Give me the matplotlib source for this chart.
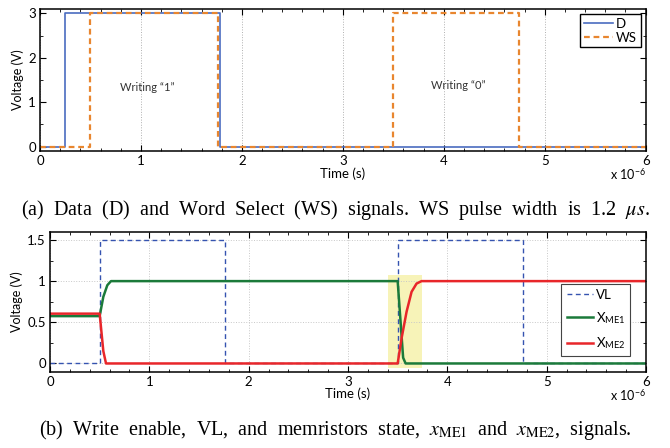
import matplotlib
matplotlib.use('Agg')
import matplotlib.pyplot as plt
from matplotlib.ticker import MultipleLocator

# --- data (time in microseconds) ---
d_t = [0, 0.25, 0.25, 1.78, 1.78, 6]
d_v = [0, 0, 3, 3, 0, 0]
ws_t = [0, 0.5, 0.5, 1.76, 1.76, 3.5, 3.5, 4.75, 4.75, 6]
ws_v = [0, 0, 3, 3, 0, 0, 3, 3, 0, 0]

vl_t = [0, 0.5, 0.5, 1.76, 1.76, 3.5, 3.5, 4.76, 4.76, 6]
vl_v = [0, 0, 1.5, 1.5, 0, 0, 1.5, 1.5, 0, 0]
xme1_t = [0, 0.5, 0.537, 0.577, 0.614, 3.5, 3.555, 3.58, 6]
xme1_v = [0.575, 0.575, 0.81, 0.95, 1.0, 1.0, 0.07, 0.0, 0.0]
xme2_t = [0, 0.5, 0.537, 0.564, 3.5, 3.54, 3.59, 3.64, 3.69, 3.74, 6]
xme2_v = [0.605, 0.605, 0.15, 0.0, 0.0, 0.31, 0.63, 0.87, 0.97, 1.0, 1.0]

highlight = (3.40, 3.74, -0.06, 1.08)

caption_a = r'(a)  Data  (D)  and  Word  Select  (WS)  signals.  WS  pulse  width  is  1.2  $\mu s$.'
caption_b = r'(b)  Write  enable,  VL,  and  memristors  state,  $x_{\rm ME1}$  and  $x_{\rm ME2}$,  signals.'

plt.rcParams['font.family'] = ['Lato', 'DejaVu Sans']
plt.rcParams['mathtext.fontset'] = 'stix'

fig = plt.figure(figsize=(6.7, 4.48), dpi=100)
ax1 = fig.add_axes([0.0597, 0.663, 0.904, 0.317])
ax2 = fig.add_axes([0.0746, 0.1703, 0.8896, 0.3125])


def style_axes(ax, off_y):
    ax.tick_params(which='both', direction='in', top=True, right=True, labelsize=9.5, pad=3)
    ax.tick_params(which='major', length=4, width=0.8)
    ax.tick_params(which='minor', length=2, width=0.6)
    for s in ax.spines.values():
        s.set_linewidth(1.1)
    ax.set_xlim(0, 6)
    ax.xaxis.set_major_locator(MultipleLocator(1))
    ax.xaxis.set_minor_locator(MultipleLocator(0.2))
    ax.set_xlabel('Time (s)', fontsize=9.5, labelpad=0)
    ax.set_ylabel('Voltage (V)', fontsize=9, labelpad=3)
    ax.text(1.0, off_y, r'x 10$^{\mathregular{-6}}$', transform=ax.transAxes, ha='right', va='center',
            fontsize=9, family=['Lato', 'DejaVu Sans'])


# (a)
style_axes(ax1, -0.165)
ax1.plot(d_t, d_v, color='#4a6cc0', lw=1.2, label='D')
ax1.plot(ws_t, ws_v, color='#e8862f', lw=1.6, ls=(0, (2.6, 1.7)), label='WS')
ax1.set_ylim(-0.1, 3.1)
ax1.yaxis.set_major_locator(MultipleLocator(1))
ax1.yaxis.set_minor_locator(MultipleLocator(0.5))
ax1.grid(axis='x', which='major', ls=':', color='#b0b0b0', lw=0.7)
ax1.text(1.06, 1.33, 'Writing \u201c1\u201d', fontsize=8, ha='center', va='center', color='#333333')
ax1.text(4.14, 1.37, 'Writing \u201c0\u201d', fontsize=8, ha='center', va='center', color='#333333')
leg = ax1.legend(loc='upper right', fontsize=9.5, handlelength=2.2, handletextpad=0.2,
                 borderpad=0.3, labelspacing=0.15, fancybox=False, framealpha=1,
                 borderaxespad=0.35)
leg.get_frame().set_edgecolor('black')
leg.get_frame().set_linewidth(1.0)

# (b)
style_axes(ax2, -0.168)
ax2.axvspan(highlight[0], highlight[1], ymin=(highlight[2] + 0.1) / 1.7, ymax=(highlight[3] + 0.1) / 1.7,
            color='#f7f3b8', lw=0, zorder=0)
ax2.plot(vl_t, vl_v, color='#3553b0', lw=1.0, ls=(0, (3.5, 2.5)), label='VL')
ax2.plot(xme1_t, xme1_v, color='#1b7a3a', lw=1.8, label=r'X$_{\mathregular{ME1}}$')
ax2.plot(xme2_t, xme2_v, color='#e8262a', lw=1.8, label=r'X$_{\mathregular{ME2}}$')
ax2.set_ylim(-0.1, 1.6)
ax2.set_yticks([0, 0.5, 1, 1.5])
ax2.set_yticklabels(['0', '0.5', '1', '1.5'])
ax2.yaxis.set_minor_locator(MultipleLocator(0.25))
ax2.grid(which='major', ls=':', color='#c8c8c8', lw=0.7)
ax2.set_axisbelow(True)
leg2 = ax2.legend(loc='center right', bbox_to_anchor=(0.985, 0.37), fontsize=9.5, handlelength=2.0,
                  handletextpad=0.2, borderpad=0.4, labelspacing=0.7, fancybox=False, framealpha=1)
leg2.get_frame().set_edgecolor('#444444')
leg2.get_frame().set_linewidth(0.8)

fig.text(0.5, 1 - 210 / 448, caption_a, ha='center', va='center', fontsize=14.5,
         family=['Liberation Serif', 'DejaVu Serif'])
fig.text(0.5, 1 - 430 / 448, caption_b, ha='center', va='center', fontsize=14.5,
         family=['Liberation Serif', 'DejaVu Serif'])

fig.savefig('out.png', dpi=100)
